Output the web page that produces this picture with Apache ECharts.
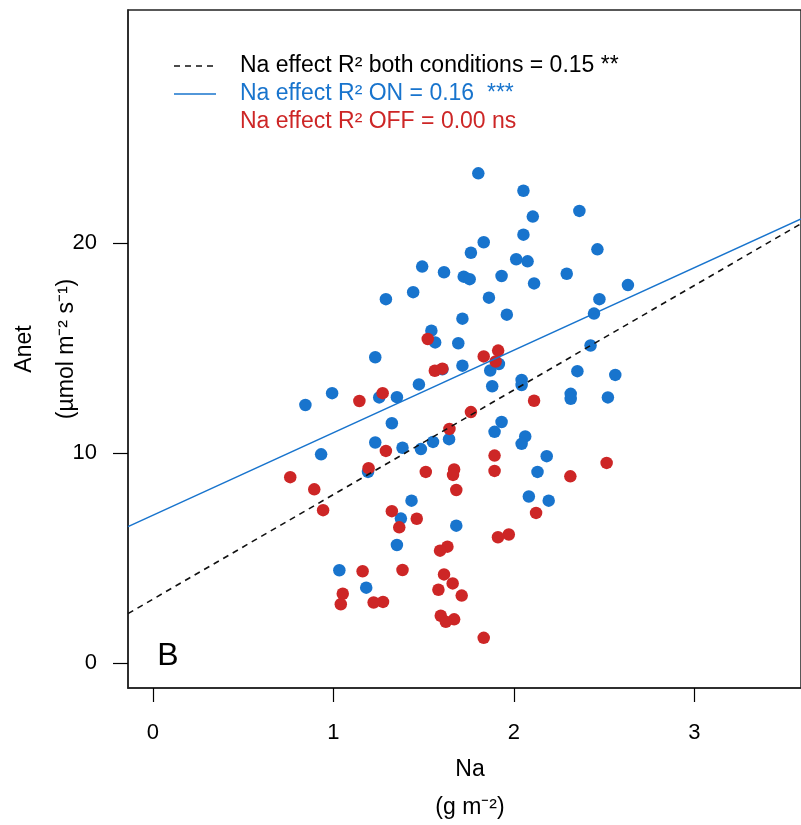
<!DOCTYPE html>
<html>
<head>
<meta charset="utf-8">
<script src="https://cdn.jsdelivr.net/npm/echarts@6/dist/echarts.min.js"></script>
<style>html,body{margin:0;padding:0;background:#fff}#c{width:801px;height:825px}</style>
</head>
<body>
<div id="c"></div>
<script>
// ---- data ----
const blueNa = [1.803,2.053,2.363,2.105,2.053,1.833,2.463,1.762,2.013,2.076,1.492,1.613,2.293,1.932,1.722,1.755,2.112,2.632,1.442,1.862,1.291,2.474,2.444,1.961,1.715,1.543,1.564,1.692,2.425,1.232,1.917,1.715,1.604,1.869,2.352,2.562,2.043,1.474,2.043,1.880,0.993,2.315,1.254,1.352,2.521,2.315,0.845,1.932,1.324,1.893,2.063,1.641,1.552,1.232,2.043,1.383,1.485,0.932,2.182,1.192,2.131,2.083,1.433,2.193,1.374,1.681,1.352,1.033,1.182];
const blueAnet = [23.33,22.50,21.54,21.27,20.41,20.05,19.71,19.55,19.24,19.14,18.89,18.62,18.55,18.44,18.41,18.29,18.09,18.01,17.67,17.41,17.34,17.34,16.65,16.60,16.41,15.84,15.28,15.24,15.13,14.57,14.25,14.17,14.00,13.94,13.91,13.73,13.49,13.28,13.25,13.19,12.86,12.83,12.66,12.67,12.66,12.59,12.30,11.49,11.43,11.02,10.80,10.67,10.54,10.51,10.45,10.26,10.20,9.95,9.86,9.11,9.11,7.94,7.74,7.74,6.89,6.55,5.63,4.43,3.60];
const redNa = [1.523,1.913,1.833,1.899,1.604,1.562,1.273,1.144,2.112,1.762,1.643,1.291,1.893,2.514,1.195,1.669,1.893,1.512,1.663,2.313,0.761,0.894,1.681,0.943,1.324,2.123,1.462,1.365,1.972,1.912,1.632,1.591,1.383,1.162,1.613,1.661,1.582,1.052,1.711,1.275,1.223,1.041,1.669,1.595,1.623,1.833];
const redAnet = [15.44,14.89,14.61,14.37,14.03,13.93,12.86,12.49,12.50,11.96,11.16,10.11,9.89,9.54,9.29,9.23,9.16,9.11,8.97,8.90,8.86,8.28,8.25,7.29,7.24,7.16,6.88,6.47,6.13,6.00,5.55,5.36,4.44,4.38,4.23,3.80,3.50,3.31,3.22,2.92,2.89,2.81,2.09,2.26,1.97,1.21];
// regression fits: [both conditions, ON]
const fitIntercept = [3.05, 7.05];
const fitSlope = [4.98, 3.93];
const xTicks = [0, 1, 2, 3];
const yTicks = [0, 10, 20];
const legendTexts = ['Na effect R² both conditions = 0.15 **', 'Na effect R² ON = 0.16  ***', 'Na effect R² OFF = 0.00 ns'];

// ---- chart ----
const BLUE = '#1874CD', RED = '#CD2626';
const FONT = '"Liberation Sans", Arial, sans-serif';
const xMin = -0.138, xMax = 3.591, yMin = -1.18, yMax = 31.11;

function pairs(xs, ys) { return xs.map((x, i) => [x, ys[i]]); }
function fitLine(k) { return [[xMin, fitIntercept[k] + fitSlope[k] * xMin], [xMax, fitIntercept[k] + fitSlope[k] * xMax]]; }

const chart = echarts.init(document.getElementById('c'), null, { renderer: 'canvas' });
chart.setOption({
  animation: false,
  backgroundColor: '#fff',
  grid: { left: 128, top: 10, right: -2, bottom: 137, show: true, borderColor: '#222', borderWidth: 1.5, backgroundColor: 'transparent' },
  xAxis: {
    type: 'value', min: xMin, max: xMax, position: 'bottom',
    splitLine: { show: false },
    axisLine: { show: true, onZero: false, lineStyle: { color: '#222', width: 1.5 } },
    axisTick: { show: true, inside: false, length: 14, customValues: xTicks, lineStyle: { color: '#000', width: 1.2 } },
    axisLabel: { show: true, customValues: xTicks, margin: 34, fontSize: 22, color: '#000', fontFamily: FONT }
  },
  yAxis: {
    type: 'value', min: yMin, max: yMax, position: 'left',
    splitLine: { show: false },
    axisLine: { show: true, onZero: false, lineStyle: { color: '#222', width: 1.5 } },
    axisTick: { show: true, inside: false, length: 15, customValues: yTicks, lineStyle: { color: '#000', width: 1.2 } },
    axisLabel: { show: true, customValues: yTicks, margin: 31, fontSize: 22, color: '#000', fontFamily: FONT }
  },
  series: [
    { type: 'scatter', data: pairs(blueNa, blueAnet), symbol: 'circle', symbolSize: 12.5, itemStyle: { color: BLUE, opacity: 1 }, z: 2 },
    { type: 'scatter', data: pairs(redNa, redAnet), symbol: 'circle', symbolSize: 12.5, itemStyle: { color: RED, opacity: 1 }, z: 3 },
    { type: 'line', data: fitLine(1), showSymbol: false, symbol: 'none', lineStyle: { color: BLUE, width: 1.5 }, z: 4 },
    { type: 'line', data: fitLine(0), showSymbol: false, symbol: 'none', lineStyle: { color: '#111', width: 1.6, type: [6, 5] }, z: 5 }
  ],
  graphic: [
    // legend
    { type: 'line', shape: { x1: 174, y1: 66, x2: 216, y2: 66 }, style: { stroke: '#111', lineWidth: 1.6, lineDash: [6, 5] } },
    { type: 'line', shape: { x1: 174, y1: 94, x2: 216, y2: 94 }, style: { stroke: BLUE, lineWidth: 1.5 } },
    { type: 'text', x: 240, y: 66, style: { text: legendTexts[0], fill: '#000', font: '23px ' + FONT, textAlign: 'left', textVerticalAlign: 'middle' } },
    { type: 'text', x: 240, y: 94, style: { text: legendTexts[1], fill: BLUE, font: '23px ' + FONT, textAlign: 'left', textVerticalAlign: 'middle' } },
    { type: 'text', x: 240, y: 122, style: { text: legendTexts[2], fill: RED, font: '23px ' + FONT, textAlign: 'left', textVerticalAlign: 'middle' } },
    // panel letter
    { type: 'text', x: 168, y: 656, style: { text: 'B', fill: '#000', font: '32px ' + FONT, textAlign: 'center', textVerticalAlign: 'middle' } },
    // axis titles
    { type: 'text', x: 470, y: 770, style: { text: 'Na', fill: '#000', font: '23px ' + FONT, textAlign: 'center', textVerticalAlign: 'middle' } },
    { type: 'text', x: 470, y: 808, style: { text: '(g m⁻²)', fill: '#000', font: '23px ' + FONT, textAlign: 'center', textVerticalAlign: 'middle' } },
    { type: 'text', x: 25, y: 349, rotation: Math.PI / 2, style: { text: 'Anet', fill: '#000', font: '23px ' + FONT, textAlign: 'center', textVerticalAlign: 'middle' } },
    { type: 'text', x: 67, y: 349, rotation: Math.PI / 2, style: { text: '(µmol m⁻² s⁻¹)', fill: '#000', font: '23px ' + FONT, textAlign: 'center', textVerticalAlign: 'middle' } }
  ]
});
</script>
</body>
</html>
